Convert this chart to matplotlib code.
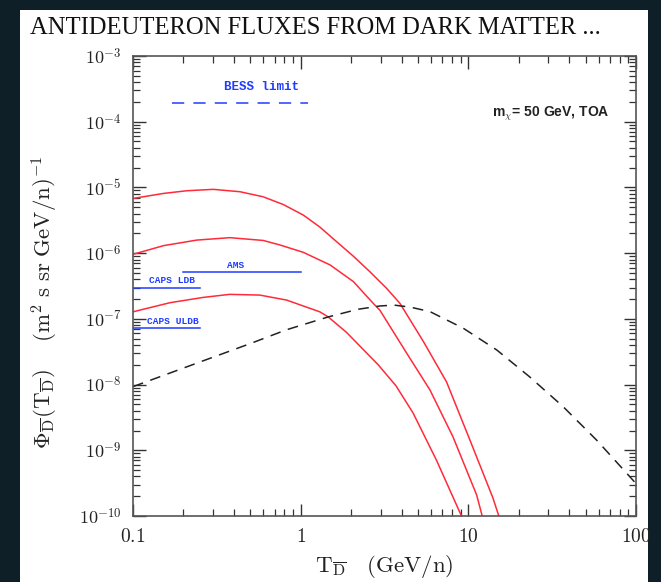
import numpy as np
import matplotlib
matplotlib.use("Agg")
import matplotlib.pyplot as plt
from matplotlib.patches import Rectangle
from matplotlib.ticker import LogLocator, NullFormatter, FixedLocator, FixedFormatter

plt.rcParams['mathtext.fontset'] = 'cm'

# antideuteron flux for three propagation setups (red) -- T in GeV/n
t_max = [0.1, 0.152, 0.209, 0.301, 0.435, 0.598, 0.787, 1.036, 1.30, 1.64, 2.06,
         2.59, 3.26, 3.91, 5.4, 7.41, 10.2, 14.0, 15.2]
phi_max = [6.8e-6, 8.1e-6, 8.9e-6, 9.35e-6, 8.6e-6, 7.2e-6, 5.5e-6, 3.8e-6, 2.5e-6,
           1.49e-6, 9.0e-7, 5.2e-7, 2.9e-7, 1.72e-7, 4.5e-8, 1.1e-8, 1.45e-9,
           1.9e-10, 1.0e-10]

t_med = [0.1, 0.152, 0.240, 0.378, 0.598, 0.753, 1.036, 1.50, 2.06, 2.71, 2.97,
         4.29, 5.9, 8.1, 11.2, 12.1]
phi_med = [9.6e-7, 1.30e-6, 1.58e-6, 1.72e-6, 1.56e-6, 1.33e-6, 1.03e-6, 6.6e-7,
           3.7e-7, 1.72e-7, 1.35e-7, 3.0e-8, 8.3e-9, 1.6e-9, 2.1e-10, 1.0e-10]

t_min = [0.1, 0.166, 0.262, 0.378, 0.571, 0.825, 1.30, 1.46, 1.88, 2.9, 3.7, 4.68,
         6.45, 9.1]
phi_min = [1.28e-7, 1.76e-7, 2.12e-7, 2.36e-7, 2.30e-7, 1.93e-7, 1.28e-7, 1.07e-7,
           6.2e-8, 2.0e-8, 9.6e-9, 3.7e-9, 7.1e-10, 1.0e-10]

# secondary (background) antideuterons
t_bkg = [0.1, 0.25, 0.5, 0.82, 1.46, 2.2, 2.97, 3.6, 4.5, 5.9, 9.33, 14.8, 23.3,
         36.8, 58.2, 96, 100]
phi_bkg = [9.3e-9, 2.2e-8, 4.2e-8, 6.8e-8, 1.07e-7, 1.40e-7, 1.57e-7, 1.62e-7,
           1.51e-7, 1.29e-7, 7.2e-8, 3.35e-8, 1.3e-8, 4.6e-9, 1.43e-9, 3.5e-10,
           3.1e-10]

# experimental sensitivities: T range and flux level
bess_t = [0.17, 1.1]
bess_phi = 1.9e-4
ams_t = [0.198, 1.01]
ams_phi = 5.1e-7
caps_ldb_t = [0.1, 0.25]
caps_ldb_phi = 2.95e-7
caps_uldb_t = [0.1, 0.25]
caps_uldb_phi = 7.2e-8

xticks = [0.1, 1, 10, 100]
xtick_labels = ['$0.1$', '$1$', '$10$', '$100$']
yticks = [1e-10, 1e-9, 1e-8, 1e-7, 1e-6, 1e-5, 1e-4, 1e-3]
ytick_labels = ['$10^{-10}$', '$10^{-9}$', '$10^{-8}$', '$10^{-7}$',
                '$10^{-6}$', '$10^{-5}$', '$10^{-4}$', '$10^{-3}$']

fig = plt.figure(figsize=(6.61, 5.82), dpi=100, facecolor='#0f1f28')
fig.patches.append(Rectangle((20/661, 0), 628/661, 572/582, transform=fig.transFigure,
                             facecolor='white', edgecolor='none', zorder=-5))

fig.text(30/661, 1 - 28/582, 'ANTIDEUTERON FLUXES FROM DARK MATTER ...',
         family='Liberation Serif', fontsize=17.7, va='center', ha='left', color='#111111')

ax = fig.add_axes([133/661, 1 - 516/582, 503/661, 460/582])
ax.set_xscale('log')
ax.set_yscale('log')
ax.set_xlim(0.1, 100)
ax.set_ylim(1e-10, 1e-3)

red = '#ff2a3a'
ax.plot(t_max, phi_max, color=red, lw=1.1)
ax.plot(t_med, phi_med, color=red, lw=1.1)
ax.plot(t_min, phi_min, color=red, lw=1.1)
ax.plot(t_bkg, phi_bkg, color='#222222', lw=1.1, dashes=(7, 5))

blue = '#1f3cff'
ax.plot(bess_t, [bess_phi, bess_phi], color=blue, lw=1.1, dashes=(8, 6))
ax.plot(ams_t, [ams_phi, ams_phi], color=blue, lw=1.1)
ax.plot(caps_ldb_t, [caps_ldb_phi, caps_ldb_phi], color=blue, lw=1.1)
ax.plot(caps_uldb_t, [caps_uldb_phi, caps_uldb_phi], color=blue, lw=1.1)

lab = dict(family='Liberation Mono', weight='bold', color=blue, ha='center', va='bottom')
ax.text(0.587, bess_phi * 1.45, 'BESS limit', fontsize=9, **lab)
ax.text(0.41, ams_phi * 1.08, 'AMS', fontsize=6.8, **lab)
ax.text(0.172, caps_ldb_phi * 1.1, 'CAPS LDB', fontsize=6.8, **lab)
ax.text(0.172, caps_uldb_phi * 1.1, 'CAPS ULDB', fontsize=6.8, **lab)

ax.text(0.948, 0.875, r'm$_\chi$= 50 GeV, TOA', transform=ax.transAxes,
        family='Liberation Sans', weight='bold', fontsize=10, ha='right', va='center',
        color='#222222')

for s in ax.spines.values():
    s.set_color('#555555')
    s.set_linewidth(1.2)

ax.xaxis.set_major_locator(FixedLocator(xticks))
ax.xaxis.set_major_formatter(FixedFormatter(xtick_labels))
ax.yaxis.set_major_locator(FixedLocator(yticks))
ax.yaxis.set_major_formatter(FixedFormatter(ytick_labels))
ax.xaxis.set_minor_locator(LogLocator(base=10, subs=np.arange(2, 10), numticks=20))
ax.yaxis.set_minor_locator(LogLocator(base=10, subs=np.arange(2, 10), numticks=20))
ax.xaxis.set_minor_formatter(NullFormatter())
ax.yaxis.set_minor_formatter(NullFormatter())
ax.tick_params(which='both', direction='in', top=True, right=True, color='#333333')
ax.tick_params(which='major', length=9, width=1.0, labelsize=13, pad=8, labelcolor='#222222')
ax.tick_params(axis='x', which='major', labelsize=14)
ax.tick_params(which='minor', length=5, width=0.9)

ax.set_xlabel(r'$\mathrm{T}_{\overline{\mathrm{D}}}\quad(\mathrm{GeV/n})$', fontsize=16.5,
              color='#222222', labelpad=5)
ax.set_ylabel(r'$\Phi_{\overline{\mathrm{D}}}(\mathrm{T}_{\overline{\mathrm{D}}})\quad\ '
              r'(\mathrm{m^2\ s\ sr\ GeV/n})^{-1}$', fontsize=16.5, color='#222222')
ax.yaxis.set_label_coords(-0.145, 0.465)

fig.savefig('out.png', dpi=100, facecolor=fig.get_facecolor())
